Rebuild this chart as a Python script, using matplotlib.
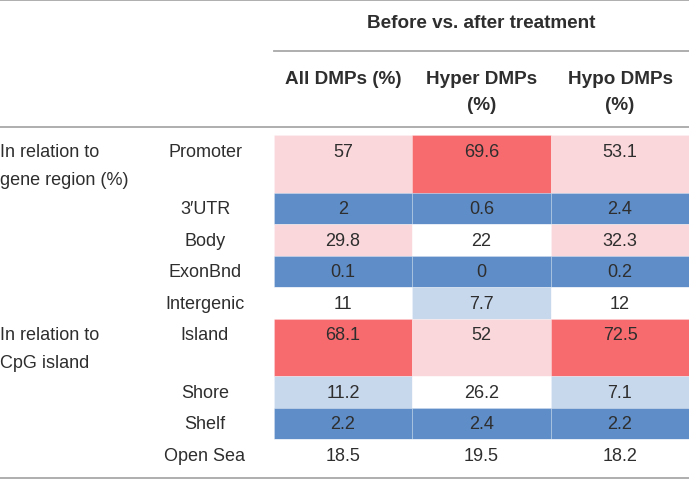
import matplotlib.pyplot as plt
from matplotlib.patches import Rectangle

plt.rcParams['font.family'] = ['Liberation Sans', 'DejaVu Sans']

# Table content
span_title = 'Before vs. after treatment'
col_labels = [['All DMPs (%)'], ['Hyper DMPs', '(%)'], ['Hypo DMPs', '(%)']]
group_labels = [['In relation to', 'gene region (%)'], ['In relation to', 'CpG island']]
group_rows = [5, 4]
row_labels = ['Promoter', '3\u2032UTR', 'Body', 'ExonBnd', 'Intergenic',
              'Island', 'Shore', 'Shelf', 'Open Sea']
all_dmps = ['57', '2', '29.8', '0.1', '11', '68.1', '11.2', '2.2', '18.5']
hyper_dmps = ['69.6', '0.6', '22', '0', '7.7', '52', '26.2', '2.4', '19.5']
hypo_dmps = ['53.1', '2.4', '32.3', '0.2', '12', '72.5', '7.1', '2.2', '18.2']
# shading level per cell: 2 high, 1 raised, 0 none, -1 lowered, -2 low
all_level = [1, -2, 1, -2, 0, 2, -1, -2, 0]
hyper_level = [2, -2, 0, -2, -1, 1, 0, -2, 0]
hypo_level = [1, -2, 1, -2, 0, 2, -1, -2, 0]
# rows that span two text lines (group label starts there)
tall_rows = [0, 5]

shade = {2: '#f76a6e', 1: '#fad7da', 0: 'white', -1: '#c7d7ec', -2: '#5f8dc7'}

W, H = 689, 481
fig = plt.figure(figsize=(W / 100, H / 100), dpi=100)
ax = fig.add_axes([0, 0, 1, 1])
ax.set_xlim(0, W)
ax.set_ylim(H, 0)
ax.axis('off')

fs = 13          # body font size
fs_head = 13.6   # bold header size
txt = '#2e2e2e'
line_c = '#a8a8a8'
col_x = [274, 412, 551, 689]
row_h, tall_h = 31.5, 57.5

# row tops from heights
row_top = []
y = 136
for i in range(len(row_labels)):
    row_top.append(y)
    y += tall_h if i in tall_rows else row_h

# rules
ax.plot([0, W], [1, 1], color=line_c, lw=1.3)
ax.plot([274, W], [51.7, 51.7], color=line_c, lw=1.3)
ax.plot([0, W], [128.3, 128.3], color=line_c, lw=1.3)
ax.plot([0, W], [479, 479], color=line_c, lw=1.3)

# headers
ax.text((274 + W) / 2, 24, span_title, ha='center', va='center',
        fontsize=fs_head, fontweight='bold', color=txt)
for j, lines in enumerate(col_labels):
    for k, lab in enumerate(lines):
        ax.text((col_x[j] + col_x[j + 1]) / 2, 79.3 + 26.5 * k, lab,
                ha='center', va='center', fontsize=fs_head,
                fontweight='bold', color=txt)

# group labels
start = 0
for lines, n in zip(group_labels, group_rows):
    for k, lab in enumerate(lines):
        ax.text(0, row_top[start] + 16.5 + 28 * k, lab, ha='left',
                va='center', fontsize=fs, color=txt)
    start += n

# body
cols = [(all_dmps, all_level), (hyper_dmps, hyper_level), (hypo_dmps, hypo_level)]
for i, lab in enumerate(row_labels):
    h = tall_h if i in tall_rows else row_h
    ax.text(205, row_top[i] + 16.5, lab, ha='center', va='center',
            fontsize=fs, color=txt)
    for j, (vals, lev) in enumerate(cols):
        x0, x1 = col_x[j], col_x[j + 1]
        ax.add_patch(Rectangle((x0, row_top[i]), x1 - x0, h,
                               facecolor=shade[lev[i]],
                               edgecolor=(1, 1, 1, 0.25), lw=0.6))
        ax.text((x0 + x1) / 2, row_top[i] + 16.5, vals[i], ha='center',
                va='center', fontsize=fs, color=txt)

fig.savefig('out.png', dpi=100)
